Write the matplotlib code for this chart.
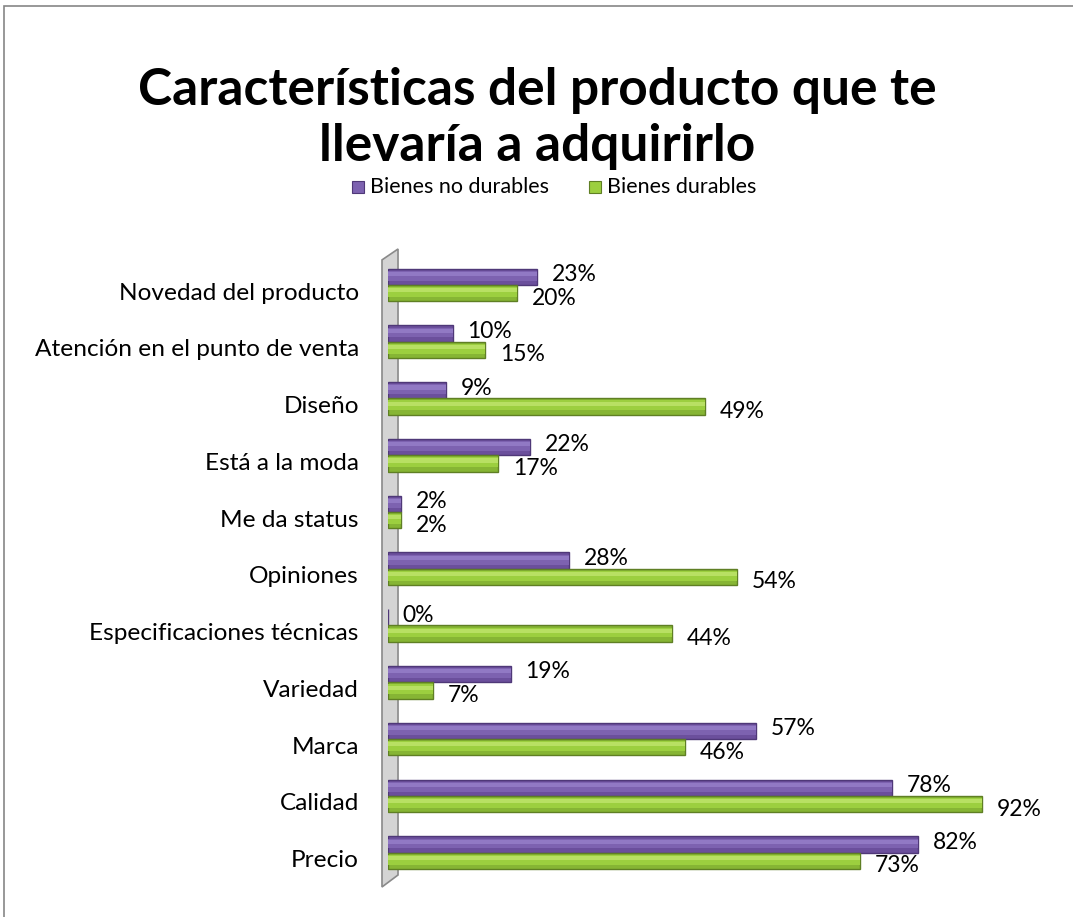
import matplotlib.pyplot as plt
import numpy as np
from matplotlib.patches import Polygon, Rectangle

categories = ['Precio', 'Calidad', 'Marca', 'Variedad', 'Especificaciones técnicas',
              'Opiniones', 'Me da status', 'Está a la moda', 'Diseño',
              'Atención en el punto de venta', 'Novedad del producto']
no_durables = [82, 78, 57, 19, 0, 28, 2, 22, 9, 10, 23]
durables = [73, 92, 46, 7, 44, 54, 2, 17, 49, 15, 20]

plt.rcParams['font.family'] = ['Lato', 'DejaVu Sans']

fig = plt.figure(figsize=(10.73, 9.17), dpi=100)
W, H = 1073, 917
# axes placed in pixel terms: x 388..1034, y 249..890
ax = fig.add_axes([388 / W, 1 - 890 / H, 646 / W, 641 / H])

y = np.arange(len(categories))
h = 0.29
# cylinder look: dark base, mid body, light top band
purple_shades = ['#4f3878', '#6b4f9c', '#7d62b0', '#9179c4']
green_shades = ['#5f7f24', '#86b534', '#9ccf3f', '#b8e063']

yp = y + 0.25
yg = y - 0.035


def cylinder(ypos, vals, shades):
    ax.barh(ypos, vals, height=h, color=shades[1], edgecolor=shades[0], linewidth=1, zorder=3)
    ax.barh(ypos + 0.02, vals, height=h * 0.6, color=shades[2], linewidth=0, zorder=4)
    ax.barh(ypos + 0.05, vals, height=h * 0.25, color=shades[3], linewidth=0, zorder=5)


cylinder(yp, no_durables, purple_shades)
cylinder(yg, durables, green_shades)

for yy, v in zip(yp, no_durables):
    ax.text(v + 2.3, yy + 0.04, '%d%%' % v, va='center', ha='left', fontsize=16.5, color='black')
for yy, v in zip(yg, durables):
    ax.text(v + 2.3, yy - 0.09, '%d%%' % v, va='center', ha='left', fontsize=16.5, color='black')

ax.set_xlim(0, 100)
ax.set_ylim(-0.55, 10.74)
ax.set_yticks(y)
ax.set_yticklabels(categories, fontsize=17.6)
ax.tick_params(axis='y', length=0, pad=21)
ax.set_xticks([])
for s in ax.spines.values():
    s.set_visible(False)

# 3D wall on the left
wall = Polygon([(-0.0093, 0.983), (0.0155, 1.0), (0.0155, 0.0234), (-0.0093, 0.0047)],
               closed=True, transform=ax.transAxes, facecolor='#d4d4d4',
               edgecolor='#8a8a8a', linewidth=1.2, clip_on=False, zorder=2)
ax.add_patch(wall)

# title
fig.text(537 / W, 1 - 91 / H, 'Características del producto que te', ha='center', va='center',
         fontsize=37, fontweight='bold')
fig.text(537 / W, 1 - 146 / H, 'llevaría a adquirirlo', ha='center', va='center',
         fontsize=37, fontweight='bold')

# legend
fig.patches.append(Rectangle((352 / W, 1 - 193 / H), 12 / W, 12 / H, transform=fig.transFigure,
                             facecolor=purple_shades[2], edgecolor=purple_shades[0], linewidth=0.8))
fig.text(370 / W, 1 - 187 / H, 'Bienes no durables', ha='left', va='center', fontsize=15.5)
fig.patches.append(Rectangle((589 / W, 1 - 193 / H), 12 / W, 12 / H, transform=fig.transFigure,
                             facecolor=green_shades[2], edgecolor=green_shades[0], linewidth=0.8))
fig.text(607 / W, 1 - 187 / H, 'Bienes durables', ha='left', va='center', fontsize=15.5)

# chart border
fig.patches.append(Rectangle((4 / W, -0.05), 1.1, 1 - 6 / H + 0.05, transform=fig.transFigure,
                             fill=False, edgecolor='#868686', linewidth=1.2))

fig.savefig('out.png', dpi=100)
